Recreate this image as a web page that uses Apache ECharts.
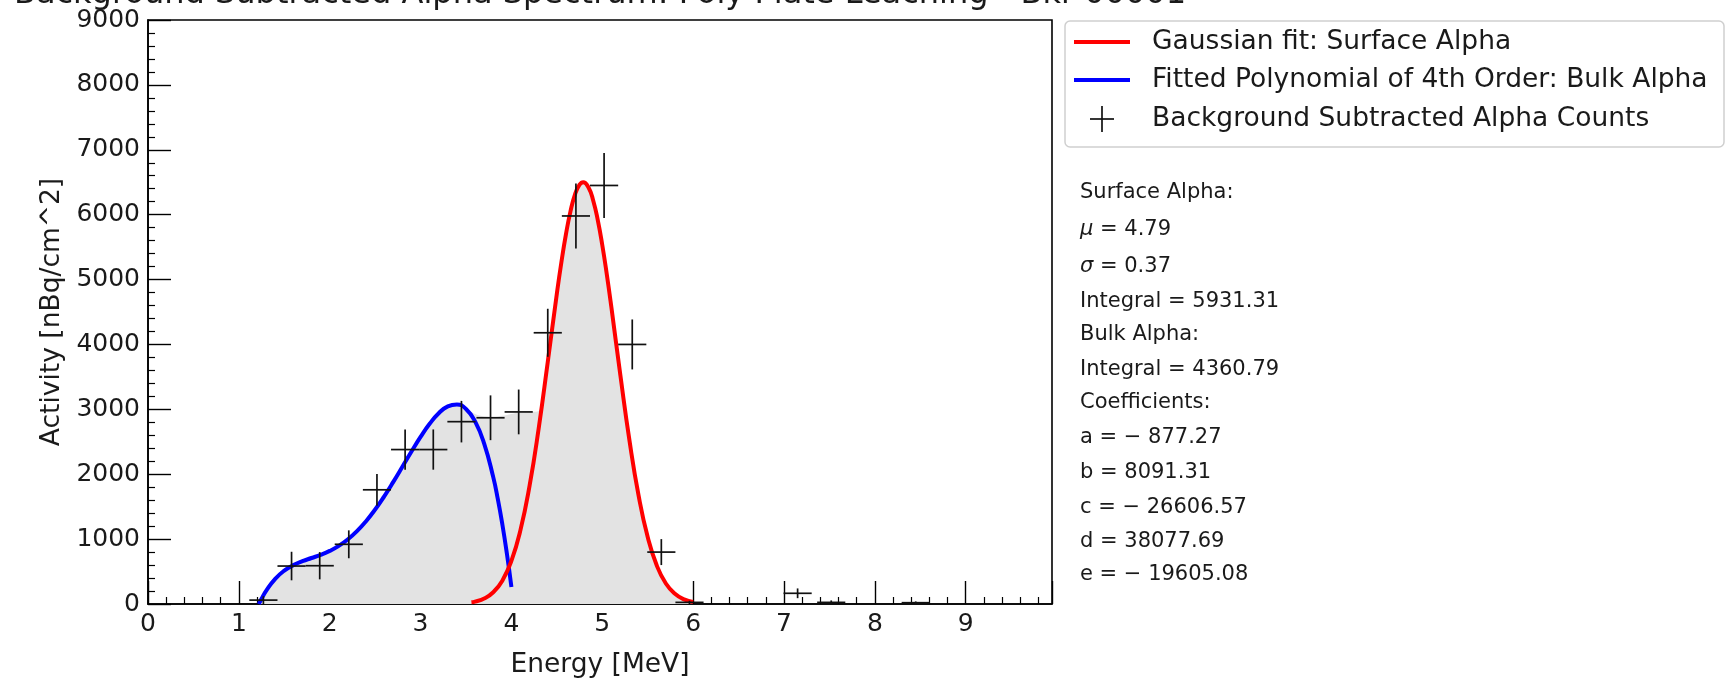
<!DOCTYPE html>
<html>
<head>
<meta charset="utf-8">
<script src="https://cdn.jsdelivr.net/npm/echarts@6/dist/echarts.min.js"></script>
<style>
  html, body { margin: 0; padding: 0; background: #fff; }
  #chart { width: 1728px; height: 679px; }
</style>
</head>
<body>
<div id="chart"></div>
<script>
// Measured spectrum: bin centres [MeV], activity [nBq/cm^2] and their uncertainties
const energyBins = [1.27, 1.58, 1.89, 2.21, 2.52, 2.83, 3.14, 3.45, 3.77, 4.08, 4.40, 4.71, 5.02, 5.33, 5.65, 5.96, 7.15, 7.52, 8.45];
const counts     = [60, 585, 590, 920, 1760, 2380, 2380, 2810, 2870, 2960, 4180, 5980, 6450, 4000, 800, 25, 165, 25, 20];
const countErr   = [60, 220, 210, 215, 245, 310, 310, 320, 345, 345, 370, 500, 500, 385, 200, 25, 75, 30, 20];
const energyErr  = [0.155, 0.155, 0.155, 0.155, 0.155, 0.155, 0.155, 0.155, 0.155, 0.155, 0.155, 0.155, 0.155, 0.155, 0.155, 0.155, 0.155, 0.155, 0.155];

// Bulk alpha: 4th order polynomial fit, sampled along its range
const bulkFitEnergy   = [1.22, 1.25, 1.3, 1.4, 1.5, 1.6, 1.7, 1.8, 1.9, 2.0, 2.1, 2.2, 2.3, 2.4, 2.5, 2.6, 2.7, 2.8, 2.9, 3.0, 3.1, 3.2, 3.3, 3.4, 3.5, 3.6, 3.7, 3.8, 3.85, 3.9, 3.95, 4.0];
const bulkFitActivity = [0, 81, 202, 387, 514, 599, 660, 709, 758, 818, 895, 996, 1122, 1276, 1456, 1660, 1882, 2115, 2350, 2575, 2777, 2940, 3046, 3075, 3006, 2814, 2473, 1955, 1620, 1229, 778, 263];

// Surface alpha: Gaussian fit, sampled along its range
const surfaceFitEnergy   = [3.56, 3.6, 3.7, 3.8, 3.9, 4.0, 4.1, 4.2, 4.3, 4.4, 4.5, 4.55, 4.6, 4.65, 4.7, 4.75, 4.79, 4.85, 4.9, 4.95, 5.0, 5.05, 5.1, 5.2, 5.3, 5.4, 5.5, 5.6, 5.7, 5.8, 5.9, 6.0];
const surfaceFitActivity = [26, 37, 85, 181, 360, 665, 1142, 1823, 2705, 3730, 4781, 5267, 5697, 6051, 6311, 6462, 6500, 6415, 6219, 5920, 5533, 5078, 4576, 3518, 2514, 1670, 1031, 592, 316, 157, 72, 31];

// Shaded region beneath the fitted spectrum
const shadedEnergy   = [1.22, 1.3, 1.4, 1.5, 1.6, 1.7, 1.8, 1.9, 2.0, 2.1, 2.2, 2.3, 2.4, 2.5, 2.6, 2.7, 2.8, 2.9, 3.0, 3.1, 3.2, 3.3, 3.4, 3.5, 3.6, 3.7, 3.8, 3.9, 4.0, 4.1, 4.2, 4.3, 4.4, 4.5, 4.6, 4.7, 4.79, 4.9, 5.0, 5.1, 5.2, 5.3, 5.4, 5.5, 5.6, 5.7, 5.8, 5.9, 6.0];
const shadedActivity = [0, 202, 387, 514, 599, 660, 709, 758, 818, 895, 996, 1122, 1276, 1456, 1660, 1882, 2115, 2350, 2575, 2777, 2940, 3046, 3075, 3000, 2930, 2890, 2880, 2900, 2930, 2950, 2960, 2975, 3730, 4781, 5697, 6311, 6500, 6219, 5533, 4576, 3518, 2514, 1670, 1031, 592, 316, 157, 72, 0];

const titleText = 'Background Subtracted Alpha Spectrum: Poly Plate Leaching - Bkr 00001';
const legendLabels = ['Gaussian fit: Surface Alpha', 'Fitted Polynomial of 4th Order: Bulk Alpha', 'Background Subtracted Alpha Counts'];
const statsLines = [
  'Surface Alpha:',
  '{i|μ} = 4.79',
  '{i|σ} = 0.37',
  'Integral = 5931.31',
  'Bulk Alpha:',
  'Integral = 4360.79',
  'Coefficients:',
  'a = − 877.27',
  'b = 8091.31',
  'c = − 26606.57',
  'd = 38077.69',
  'e = − 19605.08'
];

const FONT = "'DejaVu Sans', 'Noto Sans', sans-serif";
const INK = '#1a1a1a';

const pairs = (xs, ys) => xs.map((x, i) => [x, ys[i]]);

const chart = echarts.init(document.getElementById('chart'), null, { renderer: 'canvas' });

// legend and annotation block
const legendRows = [42, 80, 119];
const statsY = [193, 230, 267, 302, 335, 370, 403, 438, 473, 508, 542, 575];

const graphics = [
  {
    type: 'text', x: 600, y: -5, z: 10,
    style: { text: titleText, fontSize: 32, fontFamily: FONT, fill: INK, align: 'center', verticalAlign: 'middle' }
  },
  {
    type: 'rect', z: 5,
    shape: { x: 1065, y: 21, width: 659, height: 126, r: 5 },
    style: { fill: '#fff', stroke: '#cfcfcf', lineWidth: 1.5 }
  },
  { type: 'line', z: 6, shape: { x1: 1074, y1: legendRows[0], x2: 1130, y2: legendRows[0] }, style: { stroke: '#ff0000', lineWidth: 4 } },
  { type: 'line', z: 6, shape: { x1: 1074, y1: legendRows[1], x2: 1130, y2: legendRows[1] }, style: { stroke: '#0000ff', lineWidth: 4 } },
  { type: 'line', z: 6, shape: { x1: 1090, y1: legendRows[2], x2: 1114, y2: legendRows[2] }, style: { stroke: '#111', lineWidth: 1.7 } },
  { type: 'line', z: 6, shape: { x1: 1102, y1: legendRows[2] - 13, x2: 1102, y2: legendRows[2] + 13 }, style: { stroke: '#111', lineWidth: 1.7 } }
];
legendLabels.forEach((t, i) => {
  graphics.push({
    type: 'text', x: 1152, y: legendRows[i], z: 6,
    style: { text: t, fontSize: 26.5, fontFamily: FONT, fill: INK, align: 'left', verticalAlign: 'middle' }
  });
});
statsLines.forEach((t, i) => {
  graphics.push({
    type: 'text', x: 1080, y: statsY[i], z: 6,
    style: {
      text: t, fontSize: 21, fontFamily: FONT, fill: INK, align: 'left', verticalAlign: 'middle',
      rich: { i: { fontSize: 21, fontFamily: FONT, fontStyle: 'italic', fill: INK } }
    }
  });
});

const plainNumber = v => String(v);

const axisCommon = {
  type: 'value',
  axisLine: { show: true, onZero: false, lineStyle: { color: '#000', width: 1.6 } },
  axisTick: { show: true, inside: true, length: 23, lineStyle: { color: '#000', width: 1.4 } },
  minorTick: { show: true, splitNumber: 5, length: 7, lineStyle: { color: '#000', width: 1.2 } },
  splitLine: { show: false },
  minorSplitLine: { show: false },
  axisLabel: { fontSize: 25, fontFamily: FONT, color: INK, margin: 8, formatter: plainNumber },
  nameLocation: 'middle',
  nameTextStyle: { fontSize: 26.5, fontFamily: FONT, color: INK }
};

const option = {
  backgroundColor: '#fff',
  animation: false,
  grid: {
    left: 148, right: 676, top: 20, bottom: 75,
    containLabel: false, outerBoundsMode: 'none',
    show: true, borderColor: '#000', borderWidth: 1.6, backgroundColor: 'transparent'
  },
  xAxis: Object.assign({}, axisCommon, {
    min: 0, max: 9.95, interval: 1,
    name: 'Energy [MeV]', nameGap: 48,
    axisLabel: Object.assign({}, axisCommon.axisLabel, { showMaxLabel: false })
  }),
  yAxis: Object.assign({}, axisCommon, {
    min: 0, max: 9000, interval: 1000,
    name: 'Activity [nBq/cm^2]', nameGap: 81
  }),
  graphic: graphics,
  series: [
    {
      name: 'shaded', type: 'line', data: pairs(shadedEnergy, shadedActivity),
      smooth: 0.4, symbol: 'none', silent: true, z: 1,
      lineStyle: { width: 0, opacity: 0 },
      areaStyle: { color: '#e3e3e3', opacity: 1 }
    },
    {
      name: legendLabels[1], type: 'line', data: pairs(bulkFitEnergy, bulkFitActivity),
      smooth: 0.5, symbol: 'none', z: 3,
      lineStyle: { color: '#0000ff', width: 4 }
    },
    {
      name: legendLabels[0], type: 'line', data: pairs(surfaceFitEnergy, surfaceFitActivity),
      smooth: 0.5, symbol: 'none', z: 3,
      lineStyle: { color: '#ff0000', width: 4 }
    },
    {
      name: legendLabels[2], type: 'custom', z: 4, clip: true,
      data: energyBins.map((e, i) => [e, counts[i], energyErr[i], countErr[i]]),
      encode: { x: 0, y: 1 },
      renderItem: function (params, api) {
        const x = api.value(0), y = api.value(1), xe = api.value(2), ye = api.value(3);
        const l = api.coord([x - xe, y]), r = api.coord([x + xe, y]);
        const b = api.coord([x, Math.max(0, y - ye)]), t = api.coord([x, y + ye]);
        const style = { stroke: '#111', lineWidth: 1.7 };
        return {
          type: 'group',
          children: [
            { type: 'line', shape: { x1: l[0], y1: l[1], x2: r[0], y2: r[1] }, style: style },
            { type: 'line', shape: { x1: b[0], y1: b[1], x2: t[0], y2: t[1] }, style: style }
          ]
        };
      }
    }
  ]
};

chart.setOption(option);
</script>
</body>
</html>
